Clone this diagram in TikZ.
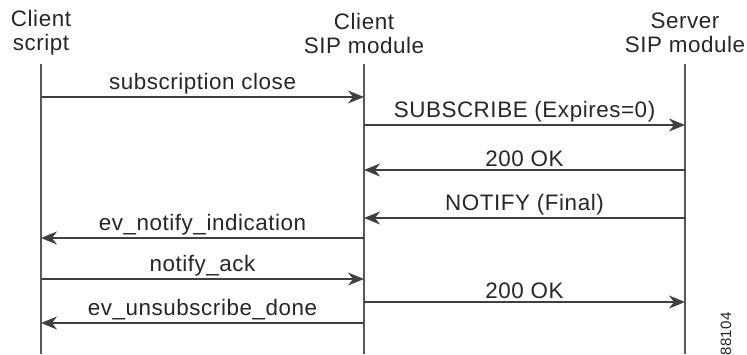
\documentclass[tikz,border=0pt]{standalone}
\usepackage{fontspec}
\setmainfont{Liberation Sans}[LetterSpace=2.5]
\usetikzlibrary{arrows.meta}

\begin{document}
\begin{tikzpicture}[x=0.5pt,y=-0.5pt,
		every node/.style={font=\fontsize{11.2}{12}\selectfont,text=black!85},
		head/.style={align=center,inner sep=0pt},
		life/.style={draw=black!65,line width=0.6pt},
		msg/.style={draw=black!75,line width=0.75pt,-{Stealth[length=8pt,width=6.5pt,inset=2.5pt]}},
		lbl/.style={above,inner sep=1.2pt}]
		\useasboundingbox (0,0) rectangle (747,354);
		% lifeline heads
		\node[head] (script) at (41,33) {Client\\script};
		\node[head] (csip) at (364,33) {Client\\SIP module};
		\node[head] (ssip) at (685,33) {Server\\SIP module};
		\coordinate (top) at (0,64);
		\coordinate (bot) at (0,354);
		\foreach \l in {script,csip,ssip}
			\draw[life] (\l |- top) -- (\l |- bot);
		% message rows
		\coordinate (r1) at (0,97);
		\coordinate (r2) at (0,125);
		\coordinate (r3) at (0,170);
		\coordinate (r4) at (0,218);
		\coordinate (r5) at (0,238);
		\coordinate (r6) at (0,279);
		\coordinate (r7) at (0,302);
		\coordinate (r8) at (0,323);
		\draw[msg] (script |- r1) -- node[lbl] {subscription close} (csip |- r1);
		\draw[msg] (csip |- r2) -- node[lbl] {SUBSCRIBE (Expires=0)} (ssip |- r2);
		\draw[msg] (ssip |- r3) -- node[lbl] {200 OK} (csip |- r3);
		\draw[msg] (ssip |- r4) -- node[lbl] {NOTIFY (Final)} (csip |- r4);
		\draw[msg] (csip |- r5) -- node[lbl] {ev\_notify\_indication} (script |- r5);
		\draw[msg] (script |- r6) -- node[lbl] {notify\_ack} (csip |- r6);
		\draw[msg] (csip |- r7) -- node[lbl] {200 OK} (ssip |- r7);
		\draw[msg] (csip |- r8) -- node[lbl] {ev\_unsubscribe\_done} (script |- r8);
		\node[rotate=90,font=\fontsize{7.5}{9}\selectfont] (fig) at (726,334) {88104};
\end{tikzpicture}
\end{document}
